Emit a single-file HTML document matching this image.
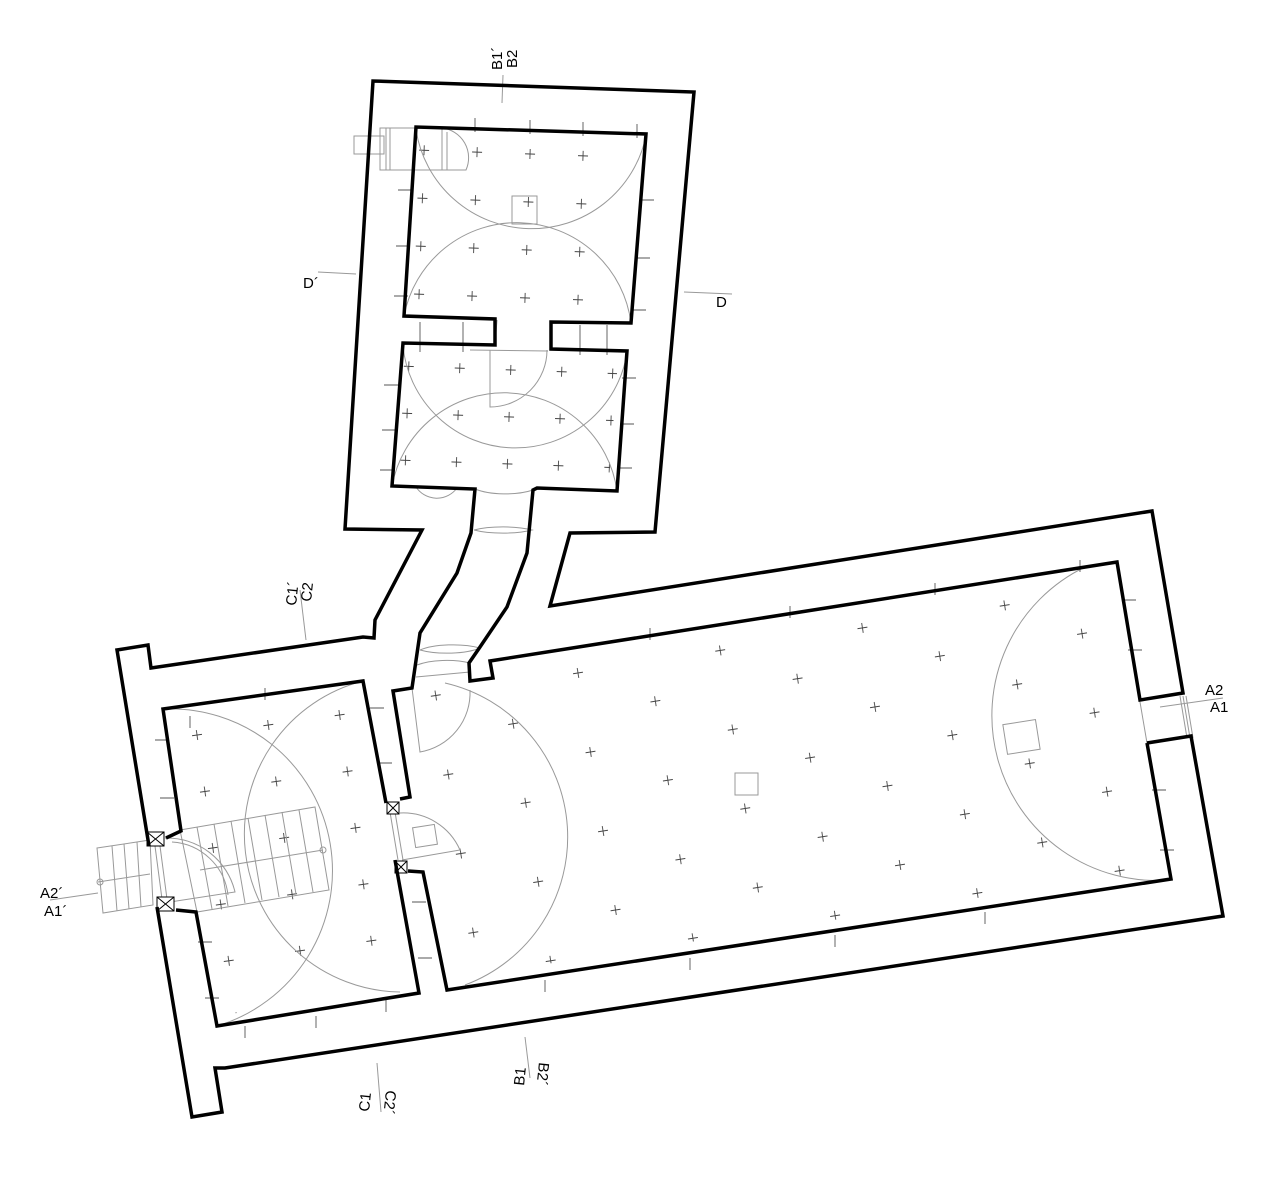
<!DOCTYPE html>
<html><head><meta charset="utf-8"><style>
html,body{margin:0;padding:0;background:#fff;}
svg{display:block;}
text{font-family:"Liberation Sans",sans-serif;font-size:15px;fill:#000;}
</style></head><body>
<svg width="1286" height="1185" viewBox="0 0 1286 1185" xmlns="http://www.w3.org/2000/svg">
<defs>
<pattern id="pb" patternUnits="userSpaceOnUse" width="144" height="80" x="429.6" y="735.1" patternTransform="rotate(-9)">
 <path d="M31 20h10M36 15v10M103 60h10M108 55v10" stroke="#444" stroke-width="0.9"/>
</pattern>
<pattern id="pl" patternUnits="userSpaceOnUse" width="72" height="57" x="56.8" y="727.3" patternTransform="rotate(-8)">
 <path d="M31 28h10M36 23v10" stroke="#444" stroke-width="0.9"/>
</pattern>
<pattern id="pt" patternUnits="userSpaceOnUse" width="53" height="48" x="508.6" y="111.4" patternTransform="rotate(2)">
 <path d="M21.5 24h10M26.5 19v10" stroke="#444" stroke-width="0.9"/>
</pattern>
<pattern id="pu" patternUnits="userSpaceOnUse" width="51" height="47" x="497.8" y="375.4" patternTransform="rotate(2)">
 <path d="M20.5 23.5h10M25.5 18.5v10" stroke="#444" stroke-width="0.9"/>
</pattern>
</defs>

<!-- cross grids -->
<polygon points="500,670 1108,575 1130,705 1138,745 1160,870 455,978 432,868 416,866 403,698" fill="url(#pb)"/>
<polygon points="172,717 355,691 378,800 387,860 409,984 225,1015 204,905 184,838" fill="url(#pl)"/>
<polygon points="414,136 627,143 613,314 410,307" fill="url(#pt)"/>
<polygon points="398,352 618,360 609,482 398,477" fill="url(#pu)"/>

<!-- thin grey geometry -->
<g fill="none" stroke="#999" stroke-width="1">
 <path d="M416,130 A117,117 0 0 0 646,136"/>
 <path d="M404,316 A115,115 0 0 1 631,323"/>
 <path d="M403,346 A113,113 0 0 0 627,353"/>
 <path d="M392,486 A114,114 0 0 1 617,491"/>
 <path d="M163,709 A162,162 0 0 1 217,1026"/>
 <path d="M363,681 A158,158 0 0 0 400,992"/>
 <path d="M445,683 A158,158 0 0 1 465,985"/>
 <path d="M1085,567 A165,165 0 0 0 1170,880"/>
 <!-- doors -->
 <path d="M490,350 L490,407 A57,57 0 0 0 547,350"/>
 <path d="M412,688 L420,752 A60,60 0 0 0 470,690"/>
 <path d="M400,813 A62,62 0 0 1 460,850 L402,860"/>
 <path d="M416,487 A25,25 0 0 0 457,488"/>
 <path d="M475,489 A40,14 0 0 0 533,490"/>
 <path d="M474,530 A40,10 0 0 0 532,530 A40,10 0 0 0 474,530"/>
 <path d="M420,650 A40,12 0 0 0 480,648 A40,12 0 0 0 420,650"/>
 <path d="M417,665 A40,14 0 0 1 470,663 M416,677 L470,672"/>
 <path d="M165,838 A70,70 0 0 1 235,892 L170,902"/>
 <path d="M172,842 A60,60 0 0 1 228,895"/>
 <!-- fixtures -->
 <rect x="512" y="196" width="25" height="28"/>
 <rect x="1005" y="722" width="33" height="30" transform="rotate(-9 1021 737)"/>
 <rect x="735" y="773" width="23" height="22"/>
 <rect x="354" y="136" width="30" height="18"/>
 <rect x="380" y="128" width="62" height="42"/>
 <path d="M442,128 A30,30 0 0 1 466,170 L442,170 M447,132 L447,170 M386,128 V170 M390,128 V170"/>
 <rect x="414" y="826" width="22" height="20" transform="rotate(-9 425 836)"/>
 <!-- stairs inside -->
 <polygon points="180,830 315,807 329,890 197,912"/>
 <path d="M197,827 L212,909 M214,824 L228,906 M231,821 L245,903 M248,818 L262,900 M265,815 L279,897 M282,812 L296,894 M299,810 L313,892"/>
 <path d="M200,870 L323,850"/>
 <circle cx="323" cy="850" r="3"/>
 <!-- stairs outside -->
 <polygon points="97,848 150,840 153,905 103,913"/>
 <path d="M112,846 L117,911 M124,844 L129,909 M137,842 L141,907 M98,882 L150,874"/>
 <circle cx="100" cy="882" r="3"/>
 <!-- opening lines -->
 <path d="M1140,702 L1147,743 M1180,696 L1187,738 M1183,696 L1190,738 M1186,696 L1193,738"/>
 <path d="M155,846 L162,899 M160,846 L167,899 M390,812 L398,860 M395,812 L403,860"/>
 <path d="M497,320 L495,345 M551,322 L551,349 M470,350 L548,351"/>
 <!-- section lines -->
 <path d="M502,103 L503,75"/>
 <path d="M318,272 L356,274"/>
 <path d="M684,292 L732,294"/>
 <path d="M300,590 L306,640"/>
 <path d="M1160,707 L1223,698"/>
 <path d="M50,900 L98,893"/>
 <path d="M377,1063 L381,1112"/>
 <path d="M525,1037 L530,1078"/>
</g>

<!-- wall ticks -->
<g stroke="#555" stroke-width="0.9" fill="none">
 <path d="M475,118 v14 M530,120 v14 M583,122 v14 M637,124 v14"/>
 <path d="M398,190 h14 M396,246 h14 M394,296 h14 M640,200 h14 M636,258 h14 M632,310 h14"/>
 <path d="M420,322 v30 M463,322 v30 M580,325 v30 M607,325 v30"/>
 <path d="M384,385 h14 M382,430 h14 M380,470 h14 M622,378 h14 M620,424 h14 M618,468 h14"/>
 <path d="M650,628 v12 M790,606 v12 M935,583 v12 M1080,560 v12"/>
 <path d="M1122,600 h14 M1128,650 h14 M1152,790 h14 M1160,850 h14"/>
 <path d="M545,980 v12 M690,958 v12 M835,935 v12 M985,912 v12"/>
 <path d="M265,688 v12 M190,716 v12"/>
 <path d="M316,1016 v12 M245,1026 v12 M386,1000 v12"/>
 <path d="M155,740 h14 M160,798 h14 M198,942 h14 M205,998 h14"/>
 <path d="M370,708 h14 M378,763 h14 M412,902 h14 M418,958 h14"/>
</g>

<!-- crosses pierres -->
<g stroke="#000" stroke-width="1">
 <rect x="147" y="832" width="17" height="14" fill="#fff"/><path d="M147,832 L164,846 M164,832 L147,846"/>
 <rect x="157" y="897" width="17" height="14" fill="#fff"/><path d="M157,897 L174,911 M174,897 L157,911"/>
 <rect x="387" y="802" width="12" height="12" fill="#fff"/><path d="M387,802 L399,814 M399,802 L387,814"/>
 <rect x="395" y="861" width="12" height="12" fill="#fff"/><path d="M395,861 L407,873 M407,861 L395,873"/>
</g>

<!-- thick walls -->
<g fill="none" stroke="#000" stroke-width="3.5" stroke-linejoin="miter">
 <polyline points="149,846 117,650 148,645 151,668 363,637 374,638 375,620 422,530 345,529 373,81 694,92 655,532 570,533 550,606 1152,511 1183,693 1140,700 1117,562 490,661 493,678 470,681 469,663 480,647 507,607 527,553 533,490 537,488 617,491 627,351 551,349 551,322 631,323 646,134 416,127 404,316 495,319 495,345 403,343 392,486 475,489 471,533 457,573 420,633 412,688 393,691 410,797 400,799"/>
 <polyline points="1147,743 1191,736 1223,916 225,1068 215,1068 222,1112 192,1117 157,907"/>
 <polyline points="1147,743 1171,879 447,990 423,872 408,871"/>
 <polyline points="166,838 181,831 163,709 363,681 386,803"/>
 <polyline points="395,860 419,993 217,1026 196,912 176,910"/>
</g>

<!-- labels -->
<text transform="translate(502,70) rotate(-90)">B1´</text>
<text transform="translate(517,68) rotate(-90)">B2</text>
<text x="303" y="288">D´</text>
<text x="716" y="307">D</text>
<text transform="translate(296,606) rotate(-84)">C1´</text>
<text transform="translate(311,602) rotate(-84)">C2</text>
<text x="1205" y="695">A2</text>
<text x="1210" y="712">A1</text>
<text x="40" y="898">A2´</text>
<text x="44" y="916">A1´</text>
<text transform="translate(369,1112) rotate(-84)">C1</text>
<text transform="translate(386,1090) rotate(96)">C2´</text>
<text transform="translate(524,1086) rotate(-84)">B1</text>
<text transform="translate(539,1062) rotate(96)">B2´</text>
</svg>
</body></html>
